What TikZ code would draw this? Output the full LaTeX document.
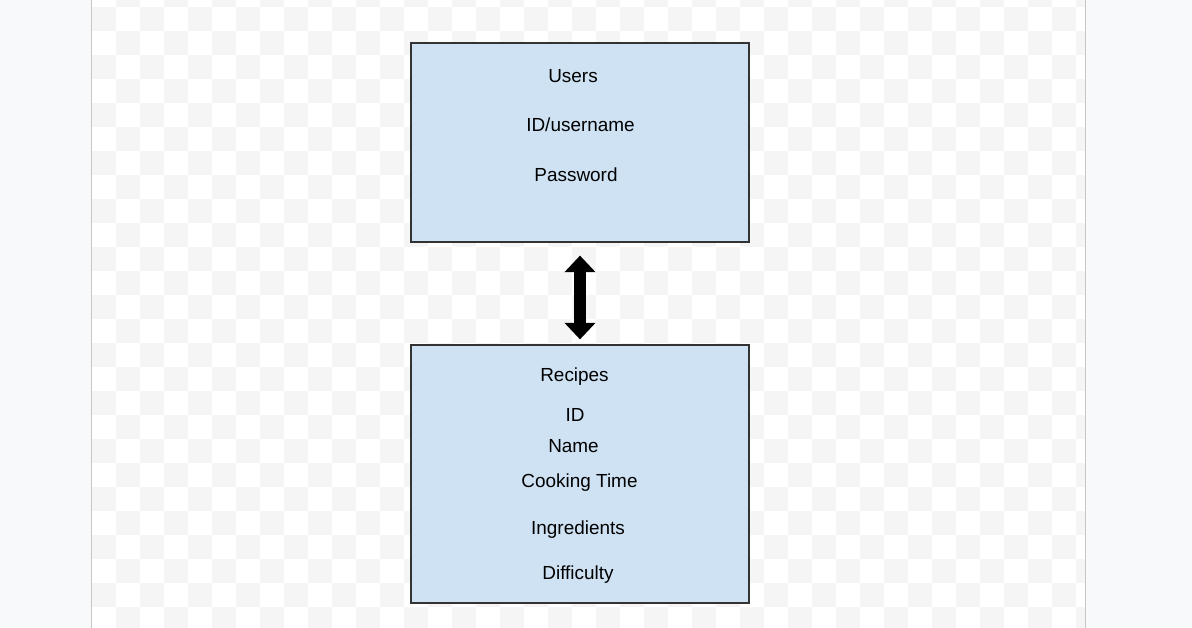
\documentclass[tikz,border=0pt]{standalone}
\usepackage{fontspec}
\setmainfont{Liberation Sans}
\usetikzlibrary{arrows.meta}

\definecolor{pagebg}{RGB}{248,249,250}
\definecolor{checker}{RGB}{245,245,245}
\definecolor{boxblue}{RGB}{207,226,243}
\definecolor{boxline}{RGB}{51,51,51}

\tikzset{every picture/.style={line width=0.75pt}}
\tikzset{
  tablebox/.style={draw=boxline, line width=0.9pt, fill=boxblue, minimum width=253.5pt, inner sep=0pt},
  field/.style={anchor=base, inner sep=0pt, font=\fontsize{14.2}{16}\selectfont},
  linkarrow/.style={line width=9pt, {Triangle[length=12.4pt,width=22.5pt]}-{Triangle[length=12.4pt,width=22.5pt]}}
}

\begin{document}
\begin{tikzpicture}[x=0.75pt,y=0.75pt,yscale=-1,xscale=1]
\useasboundingbox (0,0) rectangle (1192,628);

%Background
\fill[pagebg] (0,0) rectangle (1192,628);
\begin{scope}
\clip (92,0) rectangle (1085,628);
\fill[white] (92,0) rectangle (1085,628);
\foreach \c in {0,...,41}
  \foreach \r in {-1,...,25}
  {\pgfmathtruncatemacro\k{mod(\c+\r+100,2)}
   \ifnum\k=0 \fill[checker] ({92+24*\c},{7+24*\r}) rectangle +(24,24); \fi}
\end{scope}
\draw[color={rgb,255:red,198;green,198;blue,198}] (91.5,0) -- (91.5,628);
\draw[color={rgb,255:red,198;green,198;blue,198}] (1085.5,0) -- (1085.5,628);

%Shape: Rectangle
\node[tablebox, minimum height=149.25pt] (users) at (580,142.5) {};
%Shape: Rectangle
\node[tablebox, minimum height=193.5pt] (recipes) at (580,474) {};

%Double Arrow
\draw[linkarrow, shorten <=9.75pt, shorten >=3.75pt] (users.south) -- (recipes.north);

% Text Node
\draw (573,82) node[field] (usersTitle) {Users};
% Text Node
\draw (580.5,131) node[field] (userId) {ID/username};
% Text Node
\draw (576,181) node[field] (userPass) {Password};

% Text Node
\draw (574.5,381.5) node[field] (recipesTitle) {Recipes};
% Text Node
\draw (575,421.8) node[field] (recipeId) {ID};
% Text Node
\draw (573.5,452.5) node[field] (recipeName) {Name};
% Text Node
\draw (579.5,487.5) node[field] (recipeTime) {Cooking Time};
% Text Node
\draw (578,534.8) node[field] (recipeIngr) {Ingredients};
% Text Node
\draw (578,579) node[field] (recipeDiff) {Difficulty};

\end{tikzpicture}
\end{document}
